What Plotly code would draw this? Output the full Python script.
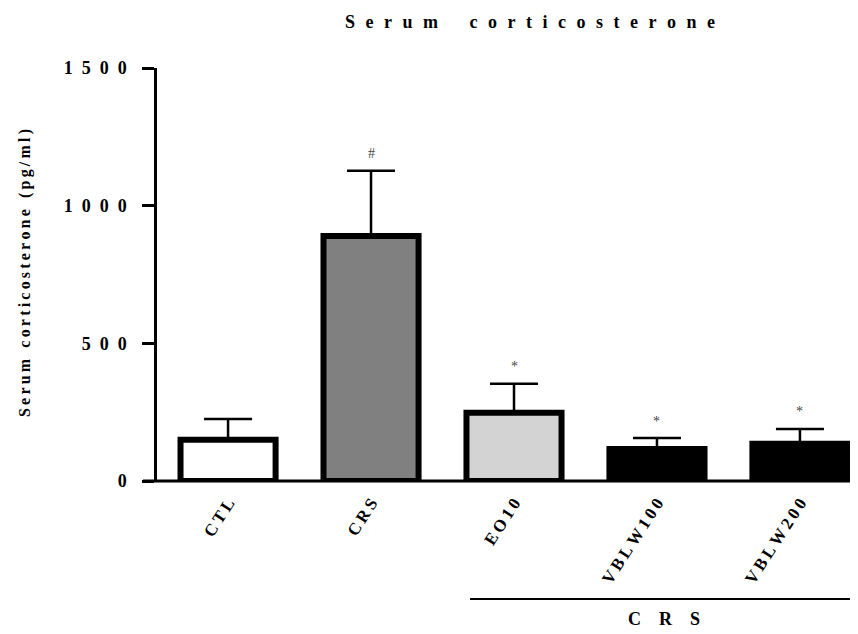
import plotly.graph_objects as go

# ---- data ----
groups = ["CTL", "CRS", "EO10", "VBLW100", "VBLW200"]
means = [150, 890, 248, 116, 135]
sem = [75, 237, 105, 40, 54]
marks = ["", "#", "*", "*", "*"]
bar_colors = ["#ffffff", "#808080", "#d3d3d3", "#000000", "#000000"]
y_ticks = [0, 500, 1000, 1500]
title_text = "Serum corticosterone"
y_title_text = "Serum corticosterone (pg/ml)"
bracket_text = "CRS"

FONT = "Liberation Serif"
OFF = 8  # page body margin
W, H = 858 - OFF, 634 - OFF
L, R, T, B = 157 - OFF, 0, 68 - OFF, 634 - 481
PW, PH = W - L - R, H - T - B

def sp(s, sep="\u2002\u2009", word=None):
    word = word if word is not None else sep * 3
    return word.join(sep.join(list(w)) for w in s.split(" "))

def px_x(px):  # reference-screen pixel -> paper
    return (px - OFF - L) / PW

def px_y(py):
    return (T + PH - (py - OFF)) / PH

xpos = list(range(len(groups)))

fig = go.Figure()
fig.add_trace(go.Bar(
    x=xpos, y=means, width=0.665,
    marker=dict(color=bar_colors, line=dict(color="black", width=6)),
    error_y=dict(type="data", array=sem, arrayminus=[0] * len(sem),
                 symmetric=False, color="black", thickness=2.5, width=24),
    showlegend=False,
))

ann = []
for i, (m, e, mk) in enumerate(zip(means, sem, marks)):
    if mk:
        ann.append(dict(x=xpos[i], y=m + e, xref="x", yref="y", text=mk,
                        showarrow=False, xanchor="center", yanchor="middle", yshift=17,
                        font=dict(family=FONT, size=14, color="#444")))

# y title
ann.append(dict(x=px_x(25), y=px_y(273), xref="paper", yref="paper",
                text=sp(y_title_text, sep="\u2009", word="\u2002\u2009"),
                textangle=-90, showarrow=False, xanchor="center", yanchor="middle",
                font=dict(family=FONT, size=16, color="black", weight="bold")))
# bracket label
ann.append(dict(x=px_x(664), y=px_y(619), xref="paper", yref="paper",
                text=sp(bracket_text, sep="\u2002\u2002"), showarrow=False,
                xanchor="center", yanchor="middle",
                font=dict(family=FONT, size=18, color="black", weight="bold")))
# title
ann.append(dict(x=px_x(530), y=px_y(22), xref="paper", yref="paper",
                text=sp(title_text, sep="\u2002\u200a"), showarrow=False,
                xanchor="center", yanchor="middle",
                font=dict(family=FONT, size=18, color="black", weight="bold")))

shapes = [
    dict(type="line", xref="paper", yref="paper", x0=px_x(143), x1=1,
         y0=0, y1=0, line=dict(color="black", width=3), layer="above"),
    dict(type="line", xref="paper", yref="paper", x0=px_x(470), x1=px_x(855),
         y0=px_y(599), y1=px_y(599), line=dict(color="black", width=2)),
]

fig.update_layout(
    width=W, height=H,
    margin=dict(l=L, r=R, t=T, b=B, pad=0),
    plot_bgcolor="white", paper_bgcolor="white",
    annotations=ann, shapes=shapes,
    xaxis=dict(range=[-0.497, 4.406], tickvals=xpos,
               ticktext=[sp(g, sep="\u2009") for g in groups],
               tickangle=-57, showline=False, showgrid=False, zeroline=False,
               ticks="", ticklabelstandoff=8,
               tickfont=dict(family=FONT, size=17, color="black", weight="bold")),
    yaxis=dict(range=[0, 1500], tickvals=y_ticks,
               ticktext=[sp(str(v), sep="\u2002") for v in y_ticks],
               showline=True, linecolor="black", linewidth=2.5,
               ticks="outside", ticklen=12, tickwidth=2.5, tickcolor="black",
               ticklabelstandoff=12,
               showgrid=False, zeroline=False,
               tickfont=dict(family=FONT, size=18, color="black", weight="bold")),
)

fig.write_html("out.html")
